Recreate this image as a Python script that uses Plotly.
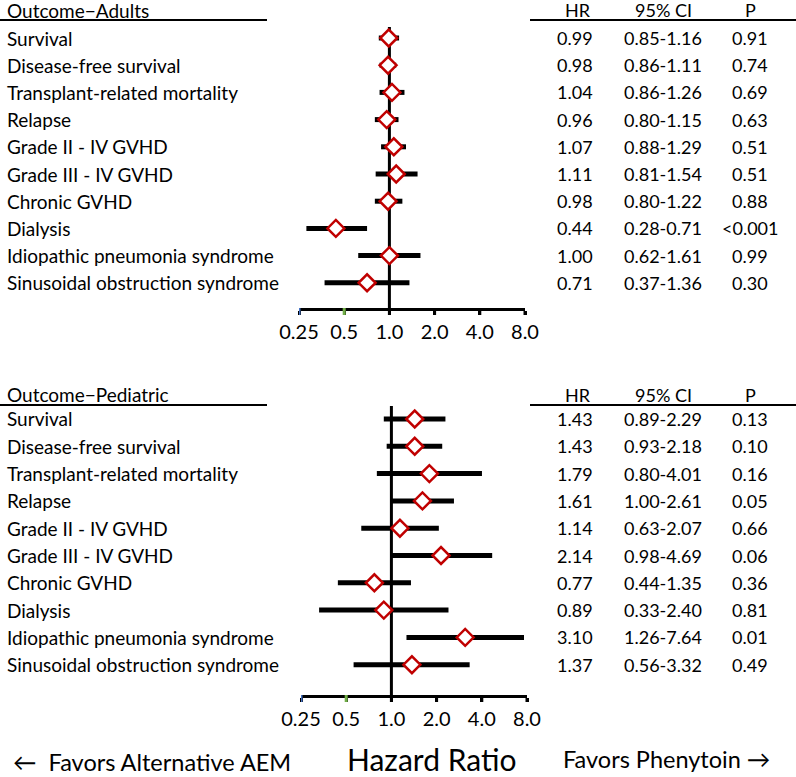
import math
import plotly.graph_objects as go

W, H = 796, 777

outcomes = ["Survival", "Disease-free survival", "Transplant-related mortality", "Relapse",
            "Grade II - IV GVHD", "Grade III - IV GVHD", "Chronic GVHD", "Dialysis",
            "Idiopathic pneumonia syndrome", "Sinusoidal obstruction syndrome"]

adult_hr = [0.99, 0.98, 1.04, 0.96, 1.07, 1.11, 0.98, 0.44, 1.00, 0.71]
adult_lo = [0.85, 0.86, 0.86, 0.80, 0.88, 0.81, 0.80, 0.28, 0.62, 0.37]
adult_hi = [1.16, 1.11, 1.26, 1.15, 1.29, 1.54, 1.22, 0.71, 1.61, 1.36]
adult_p = ["0.91", "0.74", "0.69", "0.63", "0.51", "0.51", "0.88", "<0.001", "0.99", "0.30"]

ped_hr = [1.43, 1.43, 1.79, 1.61, 1.14, 2.14, 0.77, 0.89, 3.10, 1.37]
ped_lo = [0.89, 0.93, 0.80, 1.00, 0.63, 0.98, 0.44, 0.33, 1.26, 0.56]
ped_hi = [2.29, 2.18, 4.01, 2.61, 2.07, 4.69, 1.35, 2.40, 7.64, 3.32]
ped_p = ["0.13", "0.10", "0.16", "0.05", "0.66", "0.06", "0.36", "0.81", "0.01", "0.49"]

tick_vals = [0.25, 0.5, 1, 2, 4, 8]
tick_text = ["0.25", "0.5", "1.0", "2.0", "4.0", "8.0"]
tick_colors = ["#4472c4", "#70ad47", "black", "black", "black", "black"]

FONT = "Lato"
FS = 18
FS_LABEL = 19
FS_TICK = 20
RED = "#c00000"


def px_x(p):
    return p / W


def px_y(p):
    return 1 - p / H


fig = go.Figure()
annotations = []
shapes = []

panels = [
    dict(title="Outcome\u2212Adults", hr=adult_hr, lo=adult_lo, hi=adult_hi, p=adult_p,
         xa="x", ya="y", xname="xaxis", yname="yaxis",
         first=38, step=27.2, top=20, axis=308, x0=299, x1=525, head=10, line=20, ref_top=27),
    dict(title="Outcome\u2212Pediatric", hr=ped_hr, lo=ped_lo, hi=ped_hi, p=ped_p,
         xa="x2", ya="y2", xname="xaxis2", yname="yaxis2",
         first=419, step=27.3, top=405, axis=695, x0=301, x1=527, head=395, line=405, ref_top=406),
]

for pn in panels:
    n = len(outcomes)
    idx = list(range(n))
    ymin = (pn["top"] - pn["first"]) / pn["step"]
    ymax = (pn["axis"] - pn["first"]) / pn["step"]
    ref_top_idx = (pn["ref_top"] - pn["first"]) / pn["step"]

    # reference line at HR = 1
    shapes.append(dict(type="line", xref=pn["xa"], yref=pn["ya"], x0=1, x1=1,
                       y0=ref_top_idx, y1=ymax, line=dict(color="black", width=3), layer="below"))

    fig.add_trace(go.Scatter(
        x=pn["hr"], y=idx, xaxis=pn["xa"], yaxis=pn["ya"], mode="markers",
        marker=dict(symbol="diamond", size=13, color="white", line=dict(color=RED, width=2.5)),
        error_x=dict(type="data", symmetric=False,
                     array=[h - m for h, m in zip(pn["hi"], pn["hr"])],
                     arrayminus=[m - l for m, l in zip(pn["hr"], pn["lo"])],
                     color="black", thickness=5, width=0),
        showlegend=False, hoverinfo="skip"))

    fig.layout[pn["xname"]] = dict(
        type="log", range=[math.log10(0.25), math.log10(8)],
        domain=[px_x(pn["x0"]), px_x(pn["x1"])], anchor=pn["ya"], automargin=False,
        tickvals=tick_vals, ticktext=tick_text, ticks="outside", ticklen=4, tickwidth=3,
        tickcolor="black", showline=True, linewidth=3, linecolor="black",
        showgrid=False, zeroline=False, tickfont=dict(family=FONT, size=FS_TICK, color="black"),
        fixedrange=True)
    fig.layout[pn["yname"]] = dict(
        range=[ymax, ymin], domain=[px_y(pn["axis"]), px_y(pn["top"])], automargin=False,
        anchor=pn["xa"], visible=False, fixedrange=True)

    # tick marks (first two coloured as in the original)
    for tv, col in zip(tick_vals, tick_colors):
        shapes.append(dict(type="line", xref=pn["xa"], yref="paper", x0=tv, x1=tv,
                           y0=px_y(pn["axis"]), y1=px_y(pn["axis"] + 7),
                           line=dict(color=col, width=3)))

    # header
    annotations.append(dict(text=pn["title"], xref="paper", yref="paper", x=px_x(5),
                            y=px_y(pn["head"]), xanchor="left", yanchor="middle",
                            showarrow=False, font=dict(family=FONT, size=FS_LABEL, color="black")))
    for txt, cx in [("HR", 578), ("95% CI", 663), ("P", 750)]:
        annotations.append(dict(text=txt, xref="paper", yref="paper", x=px_x(cx),
                                y=px_y(pn["head"]), xanchor="center", yanchor="middle",
                                showarrow=False, font=dict(family=FONT, size=FS, color="black")))
    shapes.append(dict(type="line", xref="paper", yref="paper", x0=0, x1=px_x(267),
                       y0=px_y(pn["line"]), y1=px_y(pn["line"]), line=dict(color="black", width=2)))
    shapes.append(dict(type="line", xref="paper", yref="paper", x0=px_x(530), x1=1,
                       y0=px_y(pn["line"]), y1=px_y(pn["line"]), line=dict(color="black", width=2)))

    for i, name in enumerate(outcomes):
        annotations.append(dict(text=name, xref="paper", yref=pn["ya"], x=px_x(5), y=i,
                                xanchor="left", yanchor="middle", showarrow=False,
                                font=dict(family=FONT, size=FS_LABEL, color="black")))
        ci = f"{pn['lo'][i]:.2f}-{pn['hi'][i]:.2f}"
        for txt, cx in [(f"{pn['hr'][i]:.2f}", 575), (ci, 663), (pn["p"][i], 750)]:
            annotations.append(dict(text=txt, xref="paper", yref=pn["ya"], x=px_x(cx), y=i,
                                    xanchor="center", yanchor="middle", showarrow=False,
                                    font=dict(family=FONT, size=FS, color="black")))

# bottom labels
annotations.append(dict(text="\u2190  Favors Alternative AEM", xref="paper", yref="paper",
                        x=px_x(11), y=px_y(762), xanchor="left", yanchor="middle",
                        showarrow=False, font=dict(family=FONT, size=23.5, color="black")))
annotations.append(dict(text="Hazard Ratio", xref="paper", yref="paper",
                        x=px_x(431), y=px_y(759), xanchor="center", yanchor="middle",
                        showarrow=False, font=dict(family=FONT, size=30, color="black")))
annotations.append(dict(text="Favors Phenytoin \u2192", xref="paper", yref="paper",
                        x=px_x(772), y=px_y(759), xanchor="right", yanchor="middle",
                        showarrow=False, font=dict(family=FONT, size=23.5, color="black")))

fig.update_layout(template="none", width=W, height=H, margin=dict(l=0, r=0, t=0, b=0, pad=0),
                  paper_bgcolor="white", plot_bgcolor="rgba(0,0,0,0)",
                  annotations=annotations, shapes=shapes, showlegend=False,
                  font=dict(family=FONT, color="black"))

fig.write_html("out.html", config={"displayModeBar": False},
               post_script="document.body.style.margin='0px';")
